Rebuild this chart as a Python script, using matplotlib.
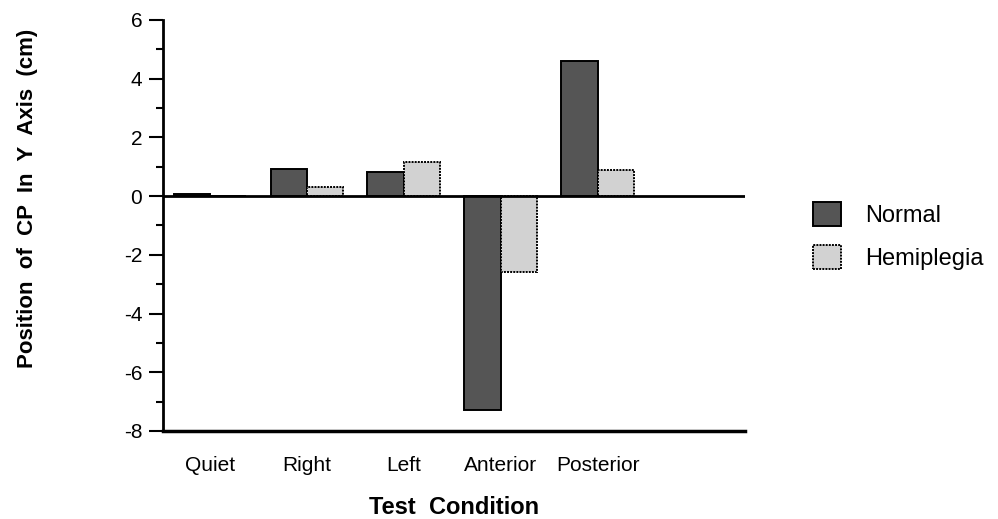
import numpy as np
import matplotlib
matplotlib.use('Agg')
import matplotlib.pyplot as plt
from matplotlib.ticker import MultipleLocator

plt.rcParams['font.family'] = ['Liberation Sans', 'DejaVu Sans']
plt.rcParams['axes.unicode_minus'] = False

# CP displacement along Y per test condition
conditions = ['Quiet', 'Right', 'Left', 'Anterior', 'Posterior']
normal = [0.07, 0.91, 0.82, -7.27, 4.6]
hemiplegia = [0.0, 0.31, 1.16, -2.6, 0.90]
yticks = [-8, -6, -4, -2, 0, 2, 4, 6]

fig = plt.figure(figsize=(9.98, 5.19), dpi=100)
ax = fig.add_axes([0.1633, 0.1696, 0.5832, 0.7919])

x = np.arange(len(conditions))
w = 0.375
ax.bar(x - w, normal, w, align='edge', color='#555555',
       edgecolor='black', linewidth=1.4, label='Normal', zorder=3)
ax.bar(x, hemiplegia, w, align='edge', color='#d2d2d2',
       edgecolor='black', linewidth=1.4, linestyle=(0, (1, 0.6)),
       label='Hemiplegia', zorder=3)

ax.axhline(0, color='black', lw=2, zorder=4)

ax.set_xlim(-0.485, 5.52)
ax.set_ylim(-8, 6)
ax.set_yticks(yticks)
ax.yaxis.set_minor_locator(MultipleLocator(1))
ax.set_xticks(x)
ax.set_xticklabels(conditions, fontsize=15)
ax.tick_params(axis='x', length=0, pad=18)
ax.tick_params(axis='y', which='major', length=10, width=1.5,
               labelsize=15, pad=5)
ax.tick_params(axis='y', which='minor', length=5, width=1.5)

for s in ('top', 'right'):
    ax.spines[s].set_visible(False)
ax.spines['left'].set_linewidth(2)
ax.spines['bottom'].set_linewidth(2.5)

ax.set_ylabel('Position  of  CP  In  Y  Axis  (cm)', fontsize=16,
              fontweight='bold')
ax.yaxis.set_label_coords(-0.215, 0.567)
ax.set_xlabel('Test  Condition', fontsize=17, fontweight='bold', labelpad=15)

ax.legend(loc='center left', bbox_to_anchor=(1.08, 0.475), frameon=False,
          fontsize=17, handlelength=1.2, handleheight=1.2,
          handletextpad=1.0, labelspacing=0.75)

fig.savefig('out.png', dpi=100)
